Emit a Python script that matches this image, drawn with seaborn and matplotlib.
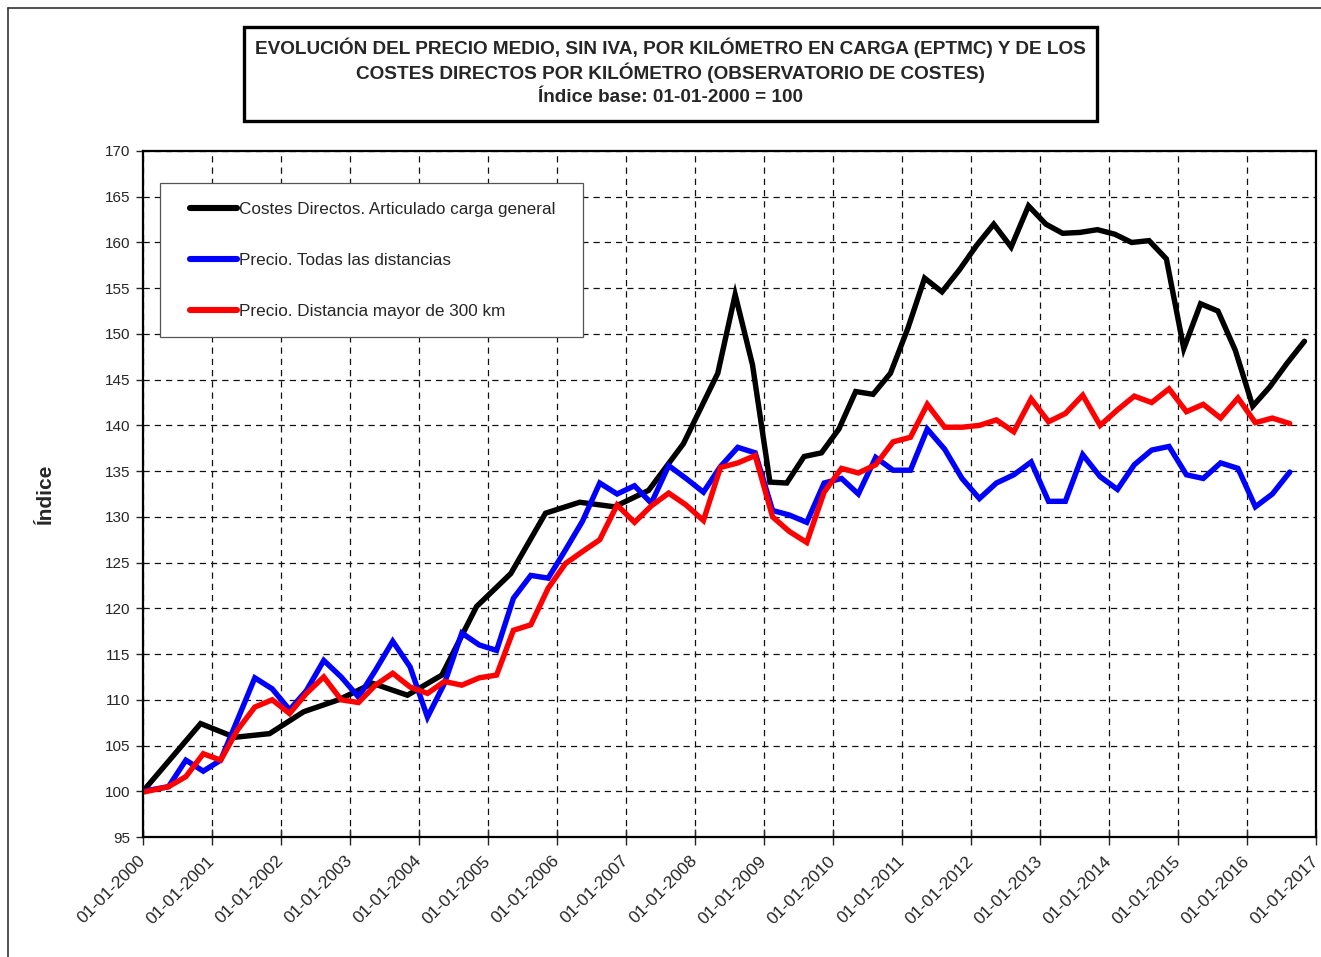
import numpy as np
import pandas as pd
import matplotlib
matplotlib.use("Agg")
import matplotlib.pyplot as plt
import matplotlib.dates as mdates
from matplotlib.patches import Rectangle
from matplotlib.lines import Line2D
import seaborn as sns

# ---------------- data ----------------
serie_costes = "Costes Directos. Articulado carga general"
serie_todas = "Precio. Todas las distancias"
serie_300 = "Precio. Distancia mayor de 300 km"

fechas_costes = (["2000-01-01"]
                 + [f"{y}-{m:02d}-01" for y in range(2000, 2008) for m in (5, 11) if not (y == 2000 and m == 5)]
                 + [f"{y}-{m:02d}-01" for y in range(2008, 2017) for m in (2, 5, 8, 11) if not (y == 2008 and m == 2)])
valores_costes = [100.0,
                  107.4, 105.9, 106.3, 108.7, 110.0, 111.8, 110.5, 112.7, 120.2, 123.8,
                  130.4, 131.6, 131.1, 132.9, 138.0,
                  145.7, 154.3, 146.6, 133.8, 133.7, 136.6, 137.0, 139.6, 143.7, 143.4,
                  145.7, 150.6, 156.1, 154.6, 157.0, 159.7, 162.0, 159.5, 164.0, 162.0,
                  161.0, 161.1, 161.4, 160.9, 160.0, 160.2, 158.2, 148.4, 153.3, 152.5,
                  148.2, 142.1, 144.2, 146.8, 149.2]

fechas_precio = (["2000-01-01"]
                 + [f"{y}-{m:02d}-15" for y in range(2000, 2017) for m in (2, 5, 8, 11)
                    if not (y == 2000 and m == 2) and not (y == 2016 and m == 11)])
valores_todas = [100.0, 100.5, 103.4, 102.2, 103.4, 107.8, 112.4, 111.2, 108.9, 111.0,
                 114.3, 112.5, 110.3, 113.2, 116.4, 113.6, 108.1, 111.8, 117.3, 116.0,
                 115.4, 121.1, 123.6, 123.3, 126.4, 129.5, 133.7, 132.5, 133.4, 131.5,
                 135.6, 134.2, 132.7, 135.5, 137.6, 137.0, 130.7, 130.2, 129.4, 133.7,
                 134.2, 132.5, 136.5, 135.1, 135.1, 139.6, 137.4, 134.2, 132.0, 133.7,
                 134.6, 136.0, 131.7, 131.7, 136.8, 134.4, 133.0, 135.7, 137.3, 137.7,
                 134.6, 134.2, 135.9, 135.3, 131.1, 132.5, 134.9]
valores_300 = [99.9, 100.5, 101.6, 104.1, 103.4, 106.7, 109.2, 110.0, 108.5, 110.7,
               112.5, 110.0, 109.7, 111.6, 112.9, 111.4, 110.7, 112.0, 111.6, 112.4,
               112.7, 117.6, 118.2, 122.2, 124.9, 126.2, 127.5, 131.3, 129.4, 131.2,
               132.6, 131.3, 129.6, 135.4, 135.9, 136.7, 130.0, 128.4, 127.2, 132.7,
               135.3, 134.8, 135.7, 138.2, 138.7, 142.3, 139.8, 139.8, 140.0, 140.6,
               139.3, 142.9, 140.4, 141.3, 143.3, 140.0, 141.7, 143.2, 142.5, 144.0,
               141.5, 142.3, 140.8, 143.0, 140.3, 140.8, 140.2]

colores = {serie_costes: "#000000", serie_todas: "#0000FF", serie_300: "#FF0000"}

titulo = ["EVOLUCIÓN DEL PRECIO MEDIO, SIN IVA, POR KILÓMETRO EN CARGA (EPTMC) Y DE LOS",
          "COSTES DIRECTOS POR KILÓMETRO (OBSERVATORIO DE COSTES)",
          "Índice base: 01-01-2000 = 100"]
etiqueta_y = "Índice"

# ---------------- frame ----------------
df = pd.concat([
    pd.DataFrame({"fecha": pd.to_datetime(fechas_costes), "valor": valores_costes, "serie": serie_costes}),
    pd.DataFrame({"fecha": pd.to_datetime(fechas_precio), "valor": valores_todas, "serie": serie_todas}),
    pd.DataFrame({"fecha": pd.to_datetime(fechas_precio), "valor": valores_300, "serie": serie_300}),
])

sns.set_style("white")
plt.rcParams["font.family"] = ["Liberation Sans", "DejaVu Sans"]

W, H = 1321, 957
fig = plt.figure(figsize=(W / 100, H / 100), dpi=100)
ax = fig.add_axes([143 / W, 1 - 837 / H, (1316 - 143) / W, (837 - 151) / H])

for s in [serie_costes, serie_todas, serie_300]:
    sns.lineplot(data=df[df["serie"] == s], x="fecha", y="valor", color=colores[s],
                 linewidth=3.9, ax=ax, label=s, solid_joinstyle="miter")

ax.set_xlim(pd.Timestamp("2000-01-01"), pd.Timestamp("2017-01-01"))
ax.set_ylim(95, 170)
ax.set_yticks(np.arange(95, 171, 5))
ax.xaxis.set_major_locator(mdates.YearLocator(1))
ax.xaxis.set_major_formatter(mdates.DateFormatter("%d-%m-%Y"))
ax.set_xlabel("")
ax.set_ylabel(etiqueta_y, fontsize=15, fontweight="bold", labelpad=36)

ax.grid(True, color="#111111", linestyle=(0, (5, 4)), linewidth=0.9)
for sp in ax.spines.values():
    sp.set_visible(True)
    sp.set_color("black")
    sp.set_linewidth(1.6)

ax.tick_params(axis="y", direction="out", length=5, width=1, labelsize=11, pad=4, left=True)
ax.tick_params(axis="x", direction="inout", length=11, width=1, labelsize=12.5, pad=10, bottom=True)
for lab in ax.get_xticklabels():
    lab.set_rotation(45)
    lab.set_ha("right")
    lab.set_va("center")
    lab.set_rotation_mode("anchor")

# legend: frame drawn separately (inside the axes), entries placed on top of it
ax.add_patch(Rectangle((160 / W, 1 - 337 / H), (583 - 160) / W, (337 - 183) / H,
                       transform=fig.transFigure, facecolor="white", edgecolor="#555555",
                       linewidth=0.9, zorder=5, clip_on=False))
leg = ax.legend(loc="upper left", bbox_to_anchor=(190 / W, 1 - 202 / H),
                bbox_transform=fig.transFigure, fontsize=12.3, frameon=False,
                handlelength=2.75, handletextpad=0.12, labelspacing=2.12,
                borderpad=0, borderaxespad=0)
leg.set_zorder(10)
for ln in leg.get_lines():
    ln.set_linewidth(4.4)
    ln.set_solid_capstyle("round")

# title box
fig.patches.append(Rectangle((244 / W, 1 - 121 / H), (1097 - 244) / W, 94 / H,
                             transform=fig.transFigure, fill=False, edgecolor="black", linewidth=2.4))
for txt, ypix in zip(titulo, [48, 73, 97]):
    fig.text(670 / W, 1 - ypix / H, txt, ha="center", va="center",
             fontsize=13.7, fontweight="bold")

# outer frame
fig.add_artist(Line2D([8 / W, 1.0], [1 - 8 / H, 1 - 8 / H], transform=fig.transFigure,
                      color="#333333", linewidth=1.2))
fig.add_artist(Line2D([8 / W, 8 / W], [0.0, 1 - 8 / H], transform=fig.transFigure,
                      color="#333333", linewidth=1.2))

fig.savefig("out.png", dpi=100)
